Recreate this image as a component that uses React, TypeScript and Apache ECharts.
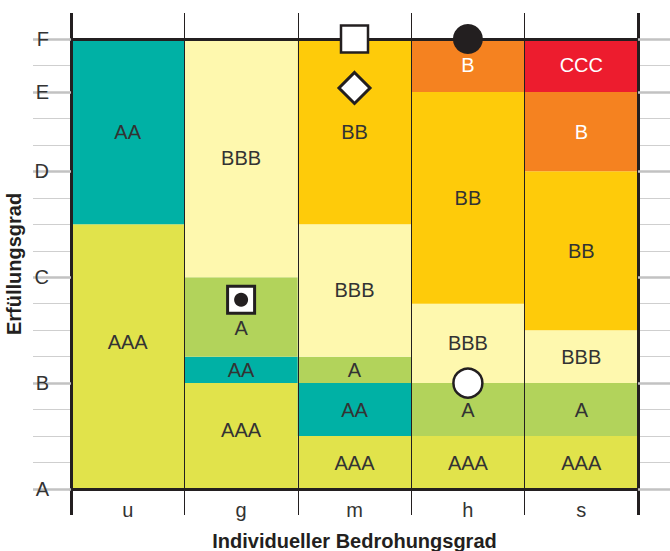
import React, { useEffect, useRef } from "react";
import * as echarts from "echarts";

// ---- data ----
const categories = ["u", "g", "m", "h", "s"];

// ratings of the stacked blocks per column (bottom to top) and the upper bound of each block
const ratingsU = ["AAA", "AA"];
const topsU = [10, 17];
const ratingsG = ["AAA", "AA", "A", "BBB"];
const topsG = [4, 5, 8, 17];
const ratingsM = ["AAA", "AA", "A", "BBB", "BB"];
const topsM = [2, 4, 5, 10, 17];
const ratingsH = ["AAA", "A", "BBB", "BB", "B"];
const topsH = [2, 4, 7, 15, 17];
const ratingsS = ["AAA", "A", "BBB", "BB", "B", "CCC"];
const topsS = [2, 4, 6, 12, 15, 17];

const yTickValues = [0, 4, 8, 12, 15, 17];
const yTickLabels = ["A", "B", "C", "D", "E", "F"];

const squareMarker = [["m", 17]];
const diamondMarker = [["m", 15.15]];
const blackCircleMarker = [["h", 17]];
const whiteCircleMarker = [["h", 4]];
const dotSquareMarker = [["g", 7.15]];

// ---- styles ----
const FONT = "'Liberation Sans', Arial, Helvetica, sans-serif";
const INK = "#231f20";
const TEXT = "#333333";
const GRID_THIN = "#cfcfcf";
const GRID_THICK = "#c2c2c2";
const ratingColors: Record<string, string> = {
  AAA: "#E1E34B",
  AA: "#00B1A5",
  A: "#B2D35B",
  BBB: "#FEF8AE",
  BB: "#FECB0A",
  B: "#F58220",
  CCC: "#ED1C2E",
};
const whiteText = new Set(["B", "CCC"]);
// vertical label nudges (px) for labels not centred in their block, key "column-layer"
const labelNudges: Record<string, number> = { "0-0": -15, "1-2": 11, "1-0": -6 };

const columnRatings = [ratingsU, ratingsG, ratingsM, ratingsH, ratingsS];
const columnTops = [topsU, topsG, topsM, topsH, topsS];

function buildOption() {
  const maxLayers = Math.max(...columnTops.map((t) => t.length));
  const barSeries: any[] = [];
  for (let layer = 0; layer < maxLayers; layer++) {
    const data = categories.map((_, c) => {
      const tops = columnTops[c];
      const rs = columnRatings[c];
      if (layer >= tops.length) return "-";
      const base = layer === 0 ? 0 : tops[layer - 1];
      const r = rs[layer];
      const nudge = labelNudges[`${c}-${layer}`] || 0;
      return {
        value: tops[layer] - base,
        itemStyle: { color: ratingColors[r] },
        label: {
          formatter: r,
          color: whiteText.has(r) ? "#ffffff" : TEXT,
          offset: [0, nudge],
        },
      };
    });
    barSeries.push({
      type: "bar",
      stack: "all",
      barWidth: "100%",
      xAxisIndex: 0,
      yAxisIndex: 0,
      silent: true,
      z: 2,
      label: {
        show: true,
        position: "inside",
        fontFamily: FONT,
        fontSize: 20,
      },
      data,
    });
  }

  const markerBase = { type: "scatter", xAxisIndex: 0, yAxisIndex: 0, z: 10, silent: true };
  const scatterSeries = [
    {
      ...markerBase,
      symbol: "rect",
      symbolSize: 27,
      itemStyle: { color: "#fff", borderColor: INK, borderWidth: 2.5, opacity: 1 },
      data: squareMarker,
    },
    {
      ...markerBase,
      symbol: "diamond",
      symbolSize: 31,
      itemStyle: { color: "#fff", borderColor: INK, borderWidth: 3, opacity: 1 },
      data: diamondMarker,
    },
    {
      ...markerBase,
      symbol: "circle",
      symbolSize: 30,
      itemStyle: { color: INK, opacity: 1 },
      data: blackCircleMarker,
    },
    {
      ...markerBase,
      symbol: "circle",
      symbolSize: 29,
      itemStyle: { color: "#fff", borderColor: INK, borderWidth: 2.5, opacity: 1 },
      data: whiteCircleMarker,
    },
    {
      ...markerBase,
      symbol: "rect",
      symbolSize: 27,
      itemStyle: { color: "#fff", borderColor: INK, borderWidth: 3, opacity: 1 },
      data: dotSquareMarker,
    },
    {
      ...markerBase,
      z: 11,
      symbol: "circle",
      symbolSize: 14,
      itemStyle: { color: INK, opacity: 1 },
      data: dotSquareMarker,
    },
  ];

  const valueY = { type: "value", min: 0, max: 17, interval: 1 };
  const hiddenLabel = { show: false };
  const noSplit = { show: false };

  return {
    animation: false,
    grid: { left: 71, right: 32, top: 39, bottom: 62, containLabel: false, outerBoundsMode: "none" },
    xAxis: [
      {
        type: "category",
        data: categories,
        position: "bottom",
        z: 3,
        axisLine: { show: true, onZero: false, lineStyle: { color: INK, width: 3 } },
        axisTick: { show: true, length: 26, lineStyle: { color: INK, width: 1 } },
        axisLabel: { fontFamily: FONT, fontSize: 20, color: TEXT, margin: 11 },
        splitLine: { show: true, lineStyle: { color: INK, width: 1 } },
        name: "Individueller Bedrohungsgrad",
        nameLocation: "middle",
        nameGap: 42,
        nameTextStyle: { fontFamily: FONT, fontSize: 20, fontWeight: "bold", color: INK },
      },
      {
        type: "category",
        data: categories,
        position: "top",
        z: 3,
        axisLine: { show: true, onZero: false, lineStyle: { color: INK, width: 3 } },
        axisTick: { show: true, length: 26, lineStyle: { color: INK, width: 1 } },
        axisLabel: hiddenLabel,
        splitLine: noSplit,
      },
      {
        type: "value",
        min: 0,
        max: 1,
        interval: 1,
        position: "bottom",
        z: 3,
        axisLine: { show: false, onZero: false },
        axisTick: { show: true, length: 26, lineStyle: { color: INK, width: 3 } },
        axisLabel: hiddenLabel,
        splitLine: noSplit,
      },
      {
        type: "value",
        min: 0,
        max: 1,
        interval: 1,
        position: "top",
        z: 3,
        axisLine: { show: false, onZero: false },
        axisTick: { show: true, length: 26, lineStyle: { color: INK, width: 3 } },
        axisLabel: hiddenLabel,
        splitLine: noSplit,
      },
    ],
    yAxis: [
      {
        ...valueY,
        position: "left",
        z: 4,
        axisLine: { show: true, onZero: false, lineStyle: { color: INK, width: 3 } },
        axisTick: {
          show: true,
          customValues: yTickValues,
          length: 38,
          lineStyle: { color: GRID_THICK, width: 2.5 },
        },
        axisLabel: {
          fontFamily: FONT,
          fontSize: 20,
          color: TEXT,
          margin: 22,
          formatter: (v: number) => {
            const i = yTickValues.indexOf(v);
            return i >= 0 ? yTickLabels[i] : "";
          },
        },
        splitLine: noSplit,
        name: "Erfüllungsgrad",
        nameLocation: "middle",
        nameGap: 46,
        nameRotate: 90,
        nameTextStyle: { fontFamily: FONT, fontSize: 20, fontWeight: "bold", color: INK },
      },
      {
        ...valueY,
        position: "left",
        z: 1,
        axisLine: { show: false, onZero: false },
        axisTick: { show: true, length: 38, lineStyle: { color: GRID_THIN, width: 1.2 } },
        axisLabel: hiddenLabel,
        splitLine: noSplit,
      },
      {
        ...valueY,
        position: "right",
        z: 4,
        axisLine: { show: true, onZero: false, lineStyle: { color: INK, width: 3 } },
        axisTick: {
          show: true,
          customValues: yTickValues,
          length: 34,
          lineStyle: { color: GRID_THICK, width: 2.5 },
        },
        axisLabel: hiddenLabel,
        splitLine: noSplit,
      },
      {
        ...valueY,
        position: "right",
        z: 1,
        axisLine: { show: false, onZero: false },
        axisTick: { show: true, length: 34, lineStyle: { color: GRID_THIN, width: 1.2 } },
        axisLabel: hiddenLabel,
        splitLine: noSplit,
      },
    ],
    series: [...barSeries, ...scatterSeries],
  };
}

export default function App() {
  const ref = useRef<HTMLDivElement>(null);
  useEffect(() => {
    if (!ref.current) return;
    const chart = echarts.init(ref.current, undefined, { renderer: "svg" });
    chart.setOption(buildOption() as any);
    return () => chart.dispose();
  }, []);
  return (
    <div
      ref={ref}
      style={{ position: "fixed", left: 0, top: 0, width: 670, height: 551, background: "#fff" }}
    />
  );
}
